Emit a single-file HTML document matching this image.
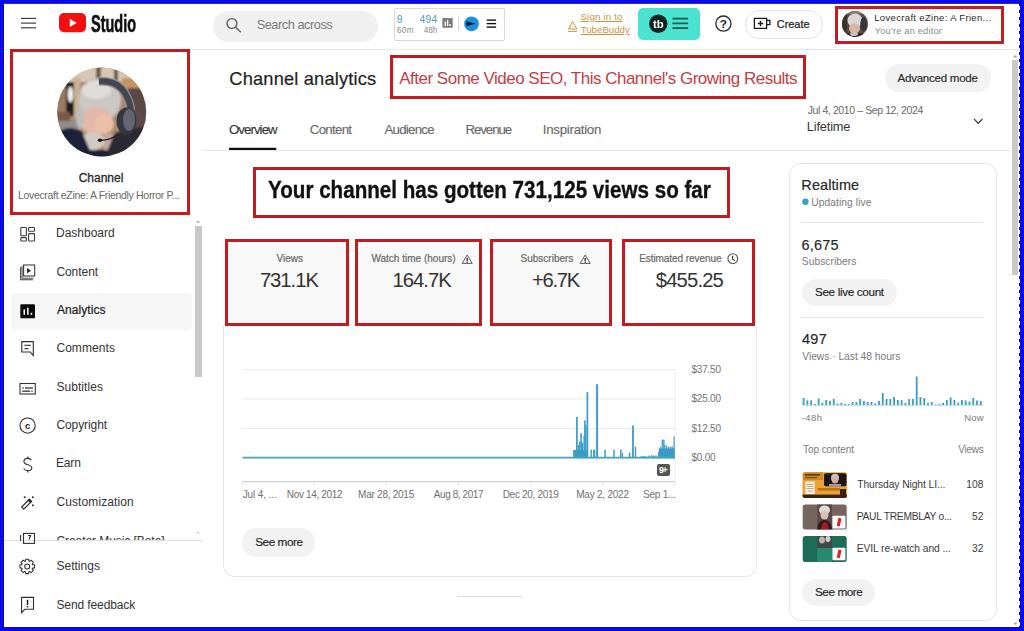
<!DOCTYPE html>
<html><head><meta charset="utf-8"><title>Channel analytics - YouTube Studio</title>
<style>
html,body{margin:0;padding:0;}
body{width:1024px;height:631px;overflow:hidden;position:relative;background:#fff;font-family:"Liberation Sans", Arial, sans-serif;}
body>div{position:absolute;}
.t{white-space:nowrap;}
body>svg{position:absolute;left:0;top:0;}
</style></head><body>
<div style="left:4px;top:49px;width:1015px;height:1px;background:#e8e8e8;"></div>
<div style="left:212.5px;top:10.5px;width:165.5px;height:31px;background:#f0f0f0;border-radius:16px;"></div>
<div style="left:393.5px;top:7.8px;width:109.8px;height:31.2px;border:1px solid #d9d9d9;border-radius:2px;"></div>
<div style="left:638px;top:8px;width:61.5px;height:31.7px;background:#4be2cf;border-radius:5px;"></div>
<div style="left:744.8px;top:10px;width:76.4px;height:26.6px;border:1px solid #e3e3e3;border-radius:14px;"></div>
<div style="left:884.7px;top:64.1px;width:106.1px;height:28.1px;background:#f2f2f2;border-radius:14px;"></div>
<div style="left:203px;top:150px;width:808px;height:1px;background:#e5e5e5;"></div>
<div style="left:10.5px;top:292.5px;width:181.5px;height:37.5px;background:#f6f6f6;border-radius:4px;"></div>
<div style="left:4px;top:540px;width:198.5px;height:1px;background:#e0e0e0;"></div>
<div style="left:224px;top:239px;width:124px;height:86px;background:#f8f8f8;"></div>
<div style="left:355px;top:239px;width:127px;height:86px;background:#f8f8f8;"></div>
<div style="left:490px;top:239px;width:122px;height:86px;background:#f8f8f8;"></div>
<div style="left:223px;top:325px;width:1px;height:240px;background:#e6e6e6;"></div>
<div style="left:756px;top:326px;width:1px;height:239px;background:#e6e6e6;"></div>
<div style="left:223px;top:553px;width:532px;height:22.5px;border:1px solid #e6e6e6;border-top:none;border-radius:0 0 12px 12px;"></div>
<div style="left:789px;top:163px;width:206px;height:455.5px;border:1px solid #e3e3e3;border-radius:12px;"></div>
<div style="left:801px;top:222px;width:182px;height:1px;background:#e5e5e5;"></div>
<div style="left:801px;top:317px;width:182px;height:1px;background:#e5e5e5;"></div>
<div style="left:802px;top:279px;width:95px;height:27px;background:#f2f2f2;border-radius:14px;"></div>
<div style="left:802.2px;top:578.5px;width:72.5px;height:27.5px;background:#f2f2f2;border-radius:14px;"></div>
<div style="left:242px;top:528px;width:73px;height:28.7px;background:#f2f2f2;border-radius:14px;"></div>
<div style="left:457px;top:596px;width:65px;height:1px;background:#dddddd;"></div>
<div style="left:657px;top:464px;width:12.6px;height:11.6px;background:#555;border-radius:2px;"></div>
<svg width="1024" height="631" viewBox="0 0 1024 631">

<defs>
 <clipPath id="cav"><circle cx="101.7" cy="112" r="44.5"/></clipPath>
 <clipPath id="cav2"><circle cx="855" cy="23.9" r="13"/></clipPath>
 <filter id="bl1" x="-20%" y="-20%" width="140%" height="140%"><feGaussianBlur stdDeviation="1.6"/></filter>
 <filter id="bl3" x="-20%" y="-20%" width="140%" height="140%"><feGaussianBlur stdDeviation="1.1"/></filter>
 <filter id="bl2" x="-20%" y="-20%" width="140%" height="140%"><feGaussianBlur stdDeviation="0.6"/></filter>
</defs>

<g stroke="#303030" stroke-width="1.1"><line x1="21" y1="18.4" x2="36" y2="18.4"/><line x1="21" y1="23.1" x2="36" y2="23.1"/><line x1="21" y1="27.8" x2="36" y2="27.8"/></g>
<rect x="59" y="13" width="27" height="19.2" rx="5" fill="#f40f0f"/><path d="M69.8 18.7 L69.8 27.1 L76.6 22.9 Z" fill="#fff"/>
<g fill="none" stroke="#5f5f5f" stroke-width="1.4"><circle cx="231.9" cy="23.5" r="4.9"/><line x1="235.5" y1="27.1" x2="240.8" y2="32.3"/></g>
<rect x="442.4" y="18.1" width="10.3" height="9.6" fill="#787878"/><g fill="#fff"><rect x="444.6" y="21.5" width="1.3" height="4.5"/><rect x="447" y="20" width="1.3" height="6"/><rect x="449.4" y="24" width="1.4" height="2"/></g>
<line x1="458.6" y1="16" x2="458.6" y2="31.2" stroke="#d0d0d0" stroke-width="1"/>
<circle cx="471.5" cy="23.8" r="7.4" fill="#1f8fe0"/><path d="M466.3 21.3 L475.6 23.8 L466.3 26.3 Z" fill="#0d2238"/>
<g stroke="#111" stroke-width="1.4"><line x1="486.7" y1="20.1" x2="496.1" y2="20.1"/><line x1="486.7" y1="23.6" x2="496.1" y2="23.6"/><line x1="486.7" y1="27.1" x2="496.1" y2="27.1"/></g>
<g fill="none" stroke="#c9963f" stroke-width="1"><path d="M572.7 21.6 L576.9 29 L568.5 29 Z"/><line x1="568" y1="31.4" x2="577.3" y2="31.4"/></g><circle cx="572.7" cy="27" r="0.6" fill="#c9963f"/>
<circle cx="658.25" cy="23.8" r="9.25" fill="#0f2320"/>
<g stroke="#0b5b50" stroke-width="1.7" stroke-linecap="round"><line x1="673.2" y1="18.7" x2="687.4" y2="18.7"/><line x1="673.2" y1="23.4" x2="687.4" y2="23.4"/><line x1="673.2" y1="28.2" x2="687.4" y2="28.2"/></g>
<circle cx="723.4" cy="23.6" r="7.6" fill="none" stroke="#2a2a2a" stroke-width="1.3"/>
<g fill="none" stroke="#1a1a1a" stroke-width="1.3"><rect x="754.4" y="18.4" width="12.2" height="10"/><path d="M766.6 20.4 L769.9 20.4 L769.9 24.6 L766.6 24.6"/></g><g stroke="#1a1a1a" stroke-width="1.5"><line x1="757.8" y1="23.5" x2="763.2" y2="23.5"/><line x1="760.5" y1="20.8" x2="760.5" y2="26.2"/></g>
<path d="M974 118.8 L978.2 123.3 L982.4 118.8" fill="none" stroke="#333" stroke-width="1.2"/>
<line x1="230" y1="148.9" x2="275.3" y2="148.9" stroke="#0f0f0f" stroke-width="2.4" stroke-linecap="round"/>
<g fill="none" stroke="#3c3c3c" stroke-width="1.1">
<rect x="20.8" y="227.5" width="5.6" height="8.3" rx="0.8"/>
<rect x="28.6" y="227.5" width="5.9" height="3.7" rx="0.8"/>
<rect x="20.8" y="237.6" width="5.6" height="3.4" rx="0.8"/>
<rect x="28.6" y="233.6" width="5.9" height="7.4" rx="0.8"/>
<rect x="23.6" y="265" width="11.1" height="11" />
<path d="M20.7 267 L20.7 279.7 L32.8 279.7"/>
<path d="M22.1 266 L22.1 278.2 L33.6 278.2" stroke-width="0.9"/>
</g>
<path d="M27 268.1 L27 273.3 L31.2 270.7 Z" fill="#2a2a2a"/>
<rect x="20.3" y="304.2" width="14.7" height="14" rx="1" fill="#0a0a0a"/><g fill="#fff"><rect x="23.5" y="309.3" width="1.5" height="5.5"/><rect x="27.1" y="307.7" width="1.5" height="7.1"/><rect x="30.7" y="312.8" width="1.5" height="2"/></g>
<g fill="none" stroke="#2e2e2e" stroke-width="1.1"><path d="M21.8 341.6 L33.3 341.6 L33.3 355.6 L30.2 352 L21.8 352 Z"/></g><g stroke="#2e2e2e" stroke-width="1.1"><line x1="24.4" y1="345.3" x2="30.8" y2="345.3"/><line x1="24.4" y1="348.7" x2="28.6" y2="348.7"/></g>
<rect x="20" y="383.5" width="15.3" height="10.5" fill="none" stroke="#333" stroke-width="1.1"/><g stroke="#333" stroke-width="1.3"><line x1="22.4" y1="388" x2="23.7" y2="388"/><line x1="25" y1="388" x2="33" y2="388"/><line x1="22.2" y1="391.2" x2="30" y2="391.2"/><line x1="31.3" y1="391.2" x2="32.7" y2="391.2"/></g>
<circle cx="27.6" cy="425.6" r="7.6" fill="none" stroke="#2e2e2e" stroke-width="1.1"/>
<g fill="none" stroke="#333" stroke-width="1.1"><path d="M31.4 460.3 C30.6 458.9 29.4 458.4 27.8 458.4 C25.3 458.4 23.9 459.6 23.9 461.4 C23.9 465.8 31.8 463.6 31.8 467.7 C31.8 469.6 30.2 470.6 27.9 470.6 C25.9 470.6 24.5 469.8 23.7 468.4"/><line x1="27.8" y1="456.4" x2="27.8" y2="458.4"/><line x1="27.8" y1="470.6" x2="27.8" y2="472.4"/></g>
<g><path d="M21.7 507 L29.3 499.4 L31.4 501.5 L23.8 509.1 Z" fill="none" stroke="#2a2a2a" stroke-width="1.1"/><path d="M28.3 500.4 L29.3 499.4 L31.4 501.5 L30.4 502.5 Z" fill="#2a2a2a" stroke="#2a2a2a" stroke-width="1.2"/><g fill="#2a2a2a"><rect x="23.8" y="496.4" width="1.7" height="1.7"/><rect x="32" y="496.4" width="1.7" height="1.7"/><rect x="32" y="504.5" width="1.7" height="1.7"/></g></g>
<g fill="none" stroke="#333" stroke-width="1.1"><rect x="23.5" y="533.4" width="11" height="10"/><line x1="20.6" y1="535" x2="20.6" y2="541"/></g><path d="M28 535.5 L30.5 535.5 L29 539.5" fill="none" stroke="#333" stroke-width="1.2"/>
<polygon points="34.44,564.86 34.44,567.94 32.53,568.13 32.19,568.94 33.41,570.43 31.23,572.61 29.74,571.39 28.93,571.73 28.74,573.64 25.66,573.64 25.47,571.73 24.66,571.39 23.17,572.61 20.99,570.43 22.21,568.94 21.87,568.13 19.96,567.94 19.96,564.86 21.87,564.67 22.21,563.86 20.99,562.37 23.17,560.19 24.66,561.41 25.47,561.07 25.66,559.16 28.74,559.16 28.93,561.07 29.74,561.41 31.23,560.19 33.41,562.37 32.19,563.86 32.53,564.67" fill="none" stroke="#333" stroke-width="1.05" stroke-linejoin="round"/><circle cx="27.2" cy="566.4" r="2.5" fill="none" stroke="#333" stroke-width="1.05"/>
<path d="M21.6 597.4 L33.5 597.4 L33.5 609.3 L24.8 609.3 L21.6 612.6 Z" fill="none" stroke="#2e2e2e" stroke-width="1.1"/><line x1="27.5" y1="599.8" x2="27.5" y2="605" stroke="#111" stroke-width="1.4"/><rect x="26.8" y="606" width="1.4" height="1.4" fill="#111"/>
<path d="M467.2 255 L472.23999999999995 263.4 L462.16 263.4 Z" fill="none" stroke="#5a5a5a" stroke-width="1" stroke-linejoin="round"/><line x1="467.2" y1="258" x2="467.2" y2="260.79999999999995" stroke="#222" stroke-width="1.4"/><rect x="466.5" y="261.5" width="1.4" height="1.1" fill="#222"/>
<path d="M585.2 255 L590.24 263.4 L580.1600000000001 263.4 Z" fill="none" stroke="#5a5a5a" stroke-width="1" stroke-linejoin="round"/><line x1="585.2" y1="258" x2="585.2" y2="260.79999999999995" stroke="#222" stroke-width="1.4"/><rect x="584.5" y="261.5" width="1.4" height="1.1" fill="#222"/>
<circle cx="732.8" cy="258.6" r="4.9" fill="none" stroke="#555" stroke-width="1.1"/><path d="M732.6 255.8 L732.6 259 L734.8 260.6" fill="none" stroke="#333" stroke-width="1.1"/>
<line x1="242.5" y1="369.8" x2="674.8" y2="369.8" stroke="#ececec" stroke-width="1"/>
<line x1="242.5" y1="399" x2="674.8" y2="399" stroke="#ececec" stroke-width="1"/>
<line x1="242.5" y1="428.5" x2="674.8" y2="428.5" stroke="#ececec" stroke-width="1"/>
<line x1="675" y1="369.5" x2="675" y2="482" stroke="#eeeeee" stroke-width="1"/>
<line x1="242.4" y1="481.6" x2="675" y2="481.6" stroke="#cfcfcf" stroke-width="1.2"/>
<line x1="242.6" y1="481.6" x2="242.6" y2="486" stroke="#e3e3e3" stroke-width="1"/>
<line x1="314" y1="481.6" x2="314" y2="486" stroke="#e3e3e3" stroke-width="1"/>
<line x1="386" y1="481.6" x2="386" y2="486" stroke="#e3e3e3" stroke-width="1"/>
<line x1="458.5" y1="481.6" x2="458.5" y2="486" stroke="#e3e3e3" stroke-width="1"/>
<line x1="531" y1="481.6" x2="531" y2="486" stroke="#e3e3e3" stroke-width="1"/>
<line x1="603" y1="481.6" x2="603" y2="486" stroke="#e3e3e3" stroke-width="1"/>
<line x1="675" y1="481.6" x2="675" y2="486" stroke="#e3e3e3" stroke-width="1"/>
<rect x="573.20" y="450.2" width="2.2" height="8.00" fill="#3b9cc6"/>
<rect x="576.05" y="416.9" width="1.7" height="41.30" fill="#3b9cc6"/>
<rect x="578.05" y="445" width="1.5" height="13.20" fill="#3b9cc6"/>
<rect x="579.15" y="441.4" width="1.5" height="16.80" fill="#3b9cc6"/>
<rect x="580.30" y="433.2" width="1.6" height="25.00" fill="#3b9cc6"/>
<rect x="581.70" y="442.7" width="1.4" height="15.50" fill="#3b9cc6"/>
<rect x="583.40" y="436" width="1.2" height="22.20" fill="#3b9cc6"/>
<rect x="584.10" y="420.3" width="1.6" height="37.90" fill="#3b9cc6"/>
<rect x="585.20" y="425" width="1.4" height="33.20" fill="#3b9cc6"/>
<rect x="586.55" y="392.1" width="1.7" height="66.10" fill="#3b9cc6"/>
<rect x="590.50" y="449.6" width="1.4" height="8.60" fill="#3b9cc6"/>
<rect x="592.95" y="449.6" width="1.3" height="8.60" fill="#3b9cc6"/>
<rect x="594.10" y="449.6" width="1.2" height="8.60" fill="#3b9cc6"/>
<rect x="596.10" y="384.2" width="2.0" height="74.00" fill="#3b9cc6"/>
<rect x="604.35" y="449.6" width="1.5" height="8.60" fill="#3b9cc6"/>
<rect x="613.25" y="449.6" width="1.5" height="8.60" fill="#3b9cc6"/>
<rect x="620.05" y="449.6" width="1.5" height="8.60" fill="#3b9cc6"/>
<rect x="621.75" y="453" width="1.3" height="5.20" fill="#3b9cc6"/>
<rect x="628.85" y="452.6" width="1.5" height="5.60" fill="#3b9cc6"/>
<rect x="632.10" y="425.5" width="1.8" height="32.70" fill="#3b9cc6"/>
<rect x="634.80" y="446.6" width="1.4" height="11.60" fill="#3b9cc6"/>
<rect x="573.6" y="450" width="14.2" height="8" fill="#3b9cc6"/>
<rect x="658.8" y="448.5" width="15.8" height="9.5" fill="#3b9cc6"/>
<rect x="640.00" y="456.70" width="1.1" height="1.50" fill="#46a3c4"/>
<rect x="641.10" y="456.14" width="1.1" height="2.06" fill="#46a3c4"/>
<rect x="642.20" y="456.41" width="1.1" height="1.79" fill="#46a3c4"/>
<rect x="643.30" y="455.97" width="1.1" height="2.23" fill="#46a3c4"/>
<rect x="644.40" y="455.90" width="1.1" height="2.30" fill="#46a3c4"/>
<rect x="645.50" y="456.82" width="1.1" height="1.38" fill="#46a3c4"/>
<rect x="646.60" y="456.88" width="1.1" height="1.32" fill="#46a3c4"/>
<rect x="647.70" y="455.45" width="1.1" height="2.75" fill="#46a3c4"/>
<rect x="648.80" y="456.40" width="1.1" height="1.80" fill="#46a3c4"/>
<rect x="649.90" y="456.40" width="1.1" height="1.80" fill="#46a3c4"/>
<rect x="651.00" y="455.08" width="1.1" height="3.12" fill="#46a3c4"/>
<rect x="652.10" y="455.94" width="1.1" height="2.26" fill="#46a3c4"/>
<rect x="653.20" y="455.28" width="1.1" height="2.92" fill="#46a3c4"/>
<rect x="654.30" y="455.86" width="1.1" height="2.34" fill="#46a3c4"/>
<rect x="655.40" y="455.55" width="1.1" height="2.65" fill="#46a3c4"/>
<rect x="656.50" y="456.35" width="1.1" height="1.85" fill="#46a3c4"/>
<rect x="657.60" y="455.49" width="1.1" height="2.71" fill="#46a3c4"/>
<rect x="658.00" y="452" width="1.2" height="6.20" fill="#3b9cc6"/>
<rect x="658.90" y="450" width="1.2" height="8.20" fill="#3b9cc6"/>
<rect x="659.80" y="447" width="1.2" height="11.20" fill="#3b9cc6"/>
<rect x="660.70" y="449" width="1.2" height="9.20" fill="#3b9cc6"/>
<rect x="661.60" y="439.7" width="1.2" height="18.50" fill="#3b9cc6"/>
<rect x="662.50" y="439.7" width="1.2" height="18.50" fill="#3b9cc6"/>
<rect x="663.40" y="439.7" width="1.2" height="18.50" fill="#3b9cc6"/>
<rect x="664.30" y="445" width="1.2" height="13.20" fill="#3b9cc6"/>
<rect x="665.20" y="448" width="1.2" height="10.20" fill="#3b9cc6"/>
<rect x="666.10" y="445.5" width="1.2" height="12.70" fill="#3b9cc6"/>
<rect x="667.00" y="450" width="1.2" height="8.20" fill="#3b9cc6"/>
<rect x="667.90" y="447" width="1.2" height="11.20" fill="#3b9cc6"/>
<rect x="668.80" y="449" width="1.2" height="9.20" fill="#3b9cc6"/>
<rect x="669.70" y="447" width="1.2" height="11.20" fill="#3b9cc6"/>
<rect x="670.60" y="449.5" width="1.2" height="8.70" fill="#3b9cc6"/>
<rect x="671.50" y="446" width="1.2" height="12.20" fill="#3b9cc6"/>
<rect x="672.50" y="448" width="1.2" height="10.20" fill="#3b9cc6"/>
<rect x="673.50" y="436.6" width="1.2" height="21.60" fill="#3b9cc6"/>
<line x1="242.5" y1="457.6" x2="675" y2="457.6" stroke="#47a3bd" stroke-width="1.8"/>
<rect x="802.70" y="398.00" width="1.8" height="7.00" fill="#3a9cc2"/>
<rect x="806.47" y="400.40" width="1.8" height="4.60" fill="#3a9cc2"/>
<rect x="810.24" y="400.40" width="1.8" height="4.60" fill="#3a9cc2"/>
<rect x="814.01" y="404.00" width="1.8" height="1.00" fill="#3a9cc2"/>
<rect x="817.78" y="398.50" width="1.8" height="6.50" fill="#3a9cc2"/>
<rect x="821.55" y="403.00" width="1.8" height="2.00" fill="#3a9cc2"/>
<rect x="825.32" y="400.00" width="1.8" height="5.00" fill="#3a9cc2"/>
<rect x="829.09" y="401.00" width="1.8" height="4.00" fill="#3a9cc2"/>
<rect x="832.86" y="399.00" width="1.8" height="6.00" fill="#3a9cc2"/>
<rect x="836.63" y="403.50" width="1.8" height="1.50" fill="#3a9cc2"/>
<rect x="840.40" y="403.00" width="1.8" height="2.00" fill="#3a9cc2"/>
<rect x="844.17" y="404.00" width="1.8" height="1.00" fill="#3a9cc2"/>
<rect x="847.94" y="404.00" width="1.8" height="1.00" fill="#3a9cc2"/>
<rect x="851.71" y="402.00" width="1.8" height="3.00" fill="#3a9cc2"/>
<rect x="855.48" y="402.00" width="1.8" height="3.00" fill="#3a9cc2"/>
<rect x="859.25" y="399.00" width="1.8" height="6.00" fill="#3a9cc2"/>
<rect x="863.02" y="401.00" width="1.8" height="4.00" fill="#3a9cc2"/>
<rect x="866.79" y="402.00" width="1.8" height="3.00" fill="#3a9cc2"/>
<rect x="870.56" y="402.00" width="1.8" height="3.00" fill="#3a9cc2"/>
<rect x="874.33" y="403.50" width="1.8" height="1.50" fill="#3a9cc2"/>
<rect x="878.10" y="401.00" width="1.8" height="4.00" fill="#3a9cc2"/>
<rect x="881.87" y="393.00" width="1.8" height="12.00" fill="#3a9cc2"/>
<rect x="885.64" y="399.00" width="1.8" height="6.00" fill="#3a9cc2"/>
<rect x="889.41" y="399.00" width="1.8" height="6.00" fill="#3a9cc2"/>
<rect x="893.18" y="397.00" width="1.8" height="8.00" fill="#3a9cc2"/>
<rect x="896.95" y="400.00" width="1.8" height="5.00" fill="#3a9cc2"/>
<rect x="900.72" y="400.00" width="1.8" height="5.00" fill="#3a9cc2"/>
<rect x="904.49" y="403.00" width="1.8" height="2.00" fill="#3a9cc2"/>
<rect x="908.26" y="399.00" width="1.8" height="6.00" fill="#3a9cc2"/>
<rect x="912.03" y="399.00" width="1.8" height="6.00" fill="#3a9cc2"/>
<rect x="915.80" y="376.50" width="1.8" height="28.50" fill="#3a9cc2"/>
<rect x="919.57" y="397.00" width="1.8" height="8.00" fill="#3a9cc2"/>
<rect x="923.34" y="398.00" width="1.8" height="7.00" fill="#3a9cc2"/>
<rect x="927.11" y="403.00" width="1.8" height="2.00" fill="#3a9cc2"/>
<rect x="930.88" y="402.00" width="1.8" height="3.00" fill="#3a9cc2"/>
<rect x="934.65" y="404.50" width="1.8" height="0.50" fill="#3a9cc2"/>
<rect x="938.42" y="404.00" width="1.8" height="1.00" fill="#3a9cc2"/>
<rect x="942.19" y="403.00" width="1.8" height="2.00" fill="#3a9cc2"/>
<rect x="945.96" y="400.00" width="1.8" height="5.00" fill="#3a9cc2"/>
<rect x="949.73" y="397.50" width="1.8" height="7.50" fill="#3a9cc2"/>
<rect x="953.50" y="400.00" width="1.8" height="5.00" fill="#3a9cc2"/>
<rect x="957.27" y="402.50" width="1.8" height="2.50" fill="#3a9cc2"/>
<rect x="961.04" y="400.00" width="1.8" height="5.00" fill="#3a9cc2"/>
<rect x="964.81" y="400.50" width="1.8" height="4.50" fill="#3a9cc2"/>
<rect x="968.58" y="401.50" width="1.8" height="3.50" fill="#3a9cc2"/>
<rect x="972.35" y="398.00" width="1.8" height="7.00" fill="#3a9cc2"/>
<rect x="976.12" y="400.50" width="1.8" height="4.50" fill="#3a9cc2"/>
<rect x="979.89" y="401.00" width="1.8" height="4.00" fill="#3a9cc2"/>
<line x1="802" y1="405.3" x2="983" y2="405.3" stroke="#9fd0e4" stroke-width="0.8"/>
<circle cx="805.4" cy="201.8" r="3.2" fill="#3aa0c6"/>
<g clip-path="url(#cav)">
 <rect x="56" y="66" width="92" height="92" fill="#a88a70"/>
 <g filter="url(#bl3)">
  <rect x="56" y="62" width="90" height="20" fill="#d6c6b2"/>
  <rect x="96" y="62" width="5" height="20" fill="#6e5a48"/>
  <rect x="114" y="66" width="4" height="15" fill="#6a5644"/>
  <rect x="56" y="80" width="12" height="40" fill="#9a7a60"/>
  <rect x="74" y="78" width="6" height="40" fill="#c9b296"/>
  <rect x="66" y="82" width="8" height="34" fill="#231c1c"/>
  <ellipse cx="70.5" cy="94.5" rx="2.8" ry="8" fill="#efefef"/>
  <rect x="56" y="112" width="14" height="9" fill="#7a5a46"/>
  <rect x="56" y="121" width="22" height="14" fill="#8e8e8c"/>
  <rect x="122" y="78" width="24" height="12" fill="#c49464"/>
  <rect x="128" y="88" width="20" height="50" fill="#5a4a46"/>
  <ellipse cx="100" cy="100" rx="21" ry="22" fill="#cbc7c4"/>
  <ellipse cx="96" cy="90" rx="15" ry="9" fill="#dedbd8"/>
  <ellipse cx="96" cy="121" rx="16" ry="14" fill="#e3b8a8"/>
  <ellipse cx="104" cy="124" rx="10" ry="10" fill="#ebbfa6"/>
  <ellipse cx="80" cy="118" rx="4" ry="11" fill="#bdbdbd"/>
  <ellipse cx="93" cy="141" rx="12" ry="9" fill="#d2cac2"/>
  <rect x="104" y="134" width="20" height="16" fill="#c2ab9c"/>
  <path d="M58 132 Q70 124 82 132 L94 160 L56 160 Z" fill="#1b2038"/>
  <path d="M114 134 Q128 126 150 128 L150 160 L104 160 Z" fill="#2a2a32"/>
  <rect x="84" y="150" width="24" height="10" fill="#1e2234"/>
 </g>
 <path d="M99 81.5 Q118 80 126 95 Q130 102 131 110" fill="none" stroke="#8e8e92" stroke-width="8.5" filter="url(#bl2)"/>
 <path d="M99 81.5 Q118 80 126 95 Q130 102 131 110" fill="none" stroke="#43464f" stroke-width="6" filter="url(#bl2)"/>
 <ellipse cx="126.5" cy="121" rx="10" ry="13.5" fill="#363842" filter="url(#bl2)"/>
 <ellipse cx="129" cy="120" rx="6" ry="11" fill="#626672" filter="url(#bl2)"/>
 <path d="M100 140.3 Q110 140.5 118 134.5" fill="none" stroke="#2a2020" stroke-width="1.2"/>
 <ellipse cx="100" cy="140.3" rx="2.3" ry="1.7" fill="#1a1a1a"/>
</g>
<g clip-path="url(#cav2)">
 <rect x="842" y="10" width="26" height="28" fill="#5a4a44"/>
 <g filter="url(#bl2)">
 <rect x="842" y="10" width="5" height="28" fill="#3a302c"/>
 <rect x="848" y="10" width="14" height="4" fill="#8a7a70"/>
 <ellipse cx="855" cy="20.5" rx="7.5" ry="7" fill="#d8d6d6"/>
 <ellipse cx="854.5" cy="28.5" rx="5.5" ry="5" fill="#dab6a8"/>
 <ellipse cx="863.5" cy="24" rx="3.2" ry="7" fill="#34343c"/>
 <rect x="842" y="33.5" width="26" height="5" fill="#22242e"/>
 <ellipse cx="854" cy="34" rx="4" ry="2" fill="#c8c0b8"/>
 </g>
</g>

<clipPath id="th1"><rect x="802.5" y="472.2" width="44.5" height="25.7" rx="2.5"/></clipPath>
<clipPath id="th2"><rect x="802.7" y="504.4" width="44" height="25.2" rx="2.5"/></clipPath>
<clipPath id="th3"><rect x="802.7" y="535.9" width="44" height="26" rx="2.5"/></clipPath>
<g clip-path="url(#th1)">
 <rect x="800" y="470" width="50" height="30" fill="#eba232"/>
 <g filter="url(#bl2)">
 <rect x="803" y="472" width="20" height="8" fill="#c98a2a"/>
 <rect x="805" y="474" width="15" height="1.6" fill="#5a3a10"/>
 <rect x="805" y="477" width="12" height="1.2" fill="#7a5018"/>
 <rect x="824" y="473.2" width="22.5" height="13" rx="2" fill="#1e1418"/>
 <ellipse cx="835" cy="478" rx="4" ry="4.2" fill="#c8c0bc"/>
 <ellipse cx="835" cy="481" rx="3" ry="2.5" fill="#d8a8a0"/>
 <rect x="829" y="484" width="12" height="2.5" fill="#9a9aa0"/>
 <rect x="805.4" y="481.5" width="9.2" height="12.5" fill="#fbf3e4"/>
 <rect x="818" y="488" width="22" height="2.5" fill="#b87018"/>
 <rect x="800" y="494.6" width="50" height="5" fill="#3a2412"/>
 <rect x="840" y="489" width="6" height="7" fill="#3a2412"/>
 </g>
 <g stroke="#8a7050" stroke-width="0.6"><line x1="806.5" y1="484.5" x2="813.5" y2="484.5"/><line x1="806.5" y1="486.5" x2="813.5" y2="486.5"/><line x1="806.5" y1="488.5" x2="813.5" y2="488.5"/><line x1="807.5" y1="491" x2="812.5" y2="491"/></g>
</g>
<g clip-path="url(#th2)">
 <rect x="800" y="502" width="50" height="30" fill="#77655f"/>
 <g filter="url(#bl2)">
 <rect x="817.2" y="504" width="14.8" height="26" fill="#5a4a45"/>
 <ellipse cx="824.5" cy="510" rx="5.5" ry="4.5" fill="#dcdcdc"/>
 <ellipse cx="824.5" cy="515" rx="4" ry="4.5" fill="#d9bfb6"/>
 <path d="M817 530 Q818 520 824.5 520 Q831 520 832 530 Z" fill="#2a1c1c"/>
 <path d="M821 530 Q822 522 825 522 Q828 522 829 530 Z" fill="#a01c22"/>
 </g>
 <rect x="832.4" y="515.8" width="13" height="12.7" rx="0.8" fill="#fdfdfd"/>
 <path d="M836.8 525.8 L838.4 517.8 L841.4 518.4 L839.8 526.4 Z" fill="#e0211c"/>
</g>
<g clip-path="url(#th3)">
 <rect x="800" y="534" width="50" height="30" fill="#1d6c57"/>
 <g filter="url(#bl2)">
 <rect x="817.2" y="536" width="14.8" height="12" fill="#3e4844"/>
 <ellipse cx="822" cy="540" rx="3" ry="3.5" fill="#b8b6b2"/>
 <ellipse cx="828" cy="539" rx="2.5" ry="3" fill="#d0d0cc"/>
 <rect x="817.2" y="548" width="14.8" height="14" fill="#2b8a70"/>
 </g>
 <rect x="832.4" y="547.7" width="13" height="12.5" rx="0.8" fill="#fdfdfd"/>
 <path d="M836.8 557.6 L838.4 549.6 L841.4 550.2 L839.8 558.2 Z" fill="#e0211c"/>
</g>
<path d="M196 222.6 L198.2 220.4 L200.4 222.6 Z" fill="#a8a8a8"/>
<path d="M1012.6 57.4 L1015 55 L1017.4 57.4 Z" fill="#a8a8a8"/>
<path d="M1013.2 622.8 L1015.4 625 L1017.6 622.8 Z" fill="#a8a8a8"/>
<path d="M196 532 L198 534 L200 532 Z" fill="#cfcfcf"/>
</svg>
<div class="t" style="left:90.57px;top:8px;font-size:24.75px;line-height:31px;color:#0f0f0f;font-weight:700;transform:scaleX(0.5848);transform-origin:0 0;-webkit-text-stroke:0.6px #0f0f0f;">Studio</div>
<div class="t" style="left:256.68px;top:15px;font-size:12.75px;line-height:19px;color:#7a7a7a;letter-spacing:-0.454px;">Search across</div>
<div class="t" style="left:396.74px;top:12px;font-size:10.25px;line-height:15px;color:#4b9cc0;">9</div>
<div class="t" style="left:419.60px;top:12px;font-size:10.25px;line-height:15px;color:#4b9cc0;letter-spacing:0.273px;">494</div>
<div class="t" style="left:396.89px;top:24px;font-size:8.25px;line-height:13px;color:#8a8a8a;letter-spacing:0.301px;">60m</div>
<div class="t" style="left:423.83px;top:24px;font-size:8.25px;line-height:13px;color:#8a8a8a;letter-spacing:-0.068px;">48h</div>
<div class="t" style="left:580.46px;top:9px;font-size:9.75px;line-height:15px;color:#c9963f;letter-spacing:0.152px;text-decoration:underline;text-underline-offset:1px;">Sign in to</div>
<div class="t" style="left:580.70px;top:22px;font-size:9.75px;line-height:15px;color:#c9963f;letter-spacing:-0.042px;text-decoration:underline;text-underline-offset:1px;">TubeBuddy</div>
<div class="t" style="left:653.19px;top:16px;font-size:11.25px;line-height:16px;color:#ffffff;font-weight:700;transform:scaleX(1.0130);transform-origin:0 0;">tb</div>
<div class="t" style="left:719.77px;top:15px;font-size:11.75px;line-height:17px;color:#222;font-weight:700;">?</div>
<div class="t" style="left:776.75px;top:16px;font-size:11.0px;line-height:16px;color:#1f1f1f;letter-spacing:-0.051px;-webkit-text-stroke:0.25px #1f1f1f;">Create</div>
<div class="t" style="left:874.24px;top:10px;font-size:9.5px;line-height:15px;color:#2a2a2a;letter-spacing:0.335px;">Lovecraft eZine: A Frien...</div>
<div class="t" style="left:874.77px;top:24px;font-size:9.25px;line-height:14px;color:#8a8a8a;letter-spacing:0.195px;">You're an editor</div>
<div class="t" style="left:78.70px;top:169px;font-size:12.0px;line-height:18px;color:#282828;letter-spacing:-0.003px;-webkit-text-stroke:0.3px #282828;">Channel</div>
<div class="t" style="left:17.96px;top:187px;font-size:10.5px;line-height:16px;color:#686868;letter-spacing:-0.324px;">Lovecraft eZine: A Friendly Horror P...</div>
<div class="t" style="left:56.04px;top:224px;font-size:12.0px;line-height:18px;color:#333333;letter-spacing:-0.005px;">Dashboard</div>
<div class="t" style="left:56.40px;top:263px;font-size:12.0px;line-height:18px;color:#333333;letter-spacing:-0.057px;">Content</div>
<div class="t" style="left:57.00px;top:301px;font-size:12.0px;line-height:18px;color:#1a1a1a;letter-spacing:0.053px;-webkit-text-stroke:0.2px #1a1a1a;">Analytics</div>
<div class="t" style="left:56.40px;top:339px;font-size:12.0px;line-height:18px;color:#333333;letter-spacing:0.071px;">Comments</div>
<div class="t" style="left:56.46px;top:378px;font-size:12.0px;line-height:18px;color:#333333;letter-spacing:0.055px;">Subtitles</div>
<div class="t" style="left:56.40px;top:416px;font-size:12.0px;line-height:18px;color:#333333;letter-spacing:-0.080px;">Copyright</div>
<div class="t" style="left:56.04px;top:454px;font-size:12.0px;line-height:18px;color:#333333;letter-spacing:-0.193px;">Earn</div>
<div class="t" style="left:56.40px;top:493px;font-size:12.0px;line-height:18px;color:#333333;letter-spacing:0.113px;">Customization</div>
<div class="t" style="left:56.46px;top:557px;font-size:12.0px;line-height:18px;color:#333333;letter-spacing:0.011px;">Settings</div>
<div class="t" style="left:56.46px;top:596px;font-size:12.0px;line-height:18px;color:#333333;letter-spacing:-0.108px;">Send feedback</div>
<div class="t" style="left:229.34px;top:66px;font-size:18.25px;line-height:25px;color:#1f1f1f;letter-spacing:0.176px;-webkit-text-stroke:0.2px #1f1f1f;">Channel analytics</div>
<div class="t" style="left:399.25px;top:67px;font-size:17.0px;line-height:23px;color:#c63c42;letter-spacing:-0.504px;">After Some Video SEO, This Channel's Growing Results</div>
<div class="t" style="left:897.60px;top:70px;font-size:11.5px;line-height:16px;color:#262626;letter-spacing:-0.239px;-webkit-text-stroke:0.15px #262626;">Advanced mode</div>
<div class="t" style="left:807.64px;top:102px;font-size:10.5px;line-height:16px;color:#686868;letter-spacing:-0.394px;">Jul 4, 2010 – Sep 12, 2024</div>
<div class="t" style="left:806.78px;top:117px;font-size:12.75px;line-height:19px;color:#333333;letter-spacing:-0.147px;">Lifetime</div>
<div class="t" style="left:228.90px;top:120px;font-size:13.25px;line-height:19px;color:#303030;letter-spacing:-0.922px;-webkit-text-stroke:0.12px #303030;">Overview</div>
<div class="t" style="left:309.84px;top:120px;font-size:13.25px;line-height:19px;color:#686868;letter-spacing:-0.708px;-webkit-text-stroke:0.12px #686868;">Content</div>
<div class="t" style="left:384.50px;top:120px;font-size:13.25px;line-height:19px;color:#686868;letter-spacing:-0.737px;-webkit-text-stroke:0.12px #686868;">Audience</div>
<div class="t" style="left:465.44px;top:120px;font-size:13.25px;line-height:19px;color:#686868;letter-spacing:-1.057px;-webkit-text-stroke:0.12px #686868;">Revenue</div>
<div class="t" style="left:542.81px;top:120px;font-size:13.25px;line-height:19px;color:#686868;letter-spacing:-0.259px;-webkit-text-stroke:0.12px #686868;">Inspiration</div>
<div class="t" style="left:267.99px;top:175px;font-size:23.5px;line-height:30px;color:#111111;font-weight:700;transform:scaleX(0.8768);transform-origin:0 0;-webkit-text-stroke:0.35px #111111;">Your channel has gotten 731,125 views so far</div>
<div class="t" style="left:276.55px;top:251px;font-size:10.0px;line-height:15px;color:#686868;-webkit-text-stroke:0.2px #686868;">Views</div>
<div class="t" style="left:371.45px;top:251px;font-size:10.0px;line-height:15px;color:#686868;letter-spacing:0.006px;-webkit-text-stroke:0.2px #686868;">Watch time (hours)</div>
<div class="t" style="left:520.55px;top:251px;font-size:10.0px;line-height:15px;color:#686868;-webkit-text-stroke:0.2px #686868;">Subscribers</div>
<div class="t" style="left:639.20px;top:251px;font-size:10.0px;line-height:15px;color:#686868;letter-spacing:-0.069px;-webkit-text-stroke:0.2px #686868;">Estimated revenue</div>
<div class="t" style="left:259.89px;top:267px;font-size:20.25px;line-height:26px;color:#333333;letter-spacing:-1.025px;">731.1K</div>
<div class="t" style="left:392.48px;top:267px;font-size:20.25px;line-height:26px;color:#333333;letter-spacing:-0.994px;">164.7K</div>
<div class="t" style="left:531.99px;top:267px;font-size:20.25px;line-height:26px;color:#333333;letter-spacing:-1.311px;">+6.7K</div>
<div class="t" style="left:655.80px;top:267px;font-size:20.25px;line-height:26px;color:#333333;letter-spacing:-0.865px;">$455.25</div>
<div class="t" style="left:691.40px;top:362px;font-size:10.0px;line-height:15px;color:#747474;letter-spacing:-0.190px;">$37.50</div>
<div class="t" style="left:691.40px;top:391px;font-size:10.0px;line-height:15px;color:#747474;letter-spacing:-0.190px;">$25.00</div>
<div class="t" style="left:691.40px;top:421px;font-size:10.0px;line-height:15px;color:#747474;letter-spacing:-0.190px;">$12.50</div>
<div class="t" style="left:691.40px;top:450px;font-size:10.0px;line-height:15px;color:#747474;letter-spacing:-0.212px;">$0.00</div>
<div class="t" style="left:242.65px;top:487px;font-size:10.0px;line-height:15px;color:#707070;letter-spacing:-0.094px;">Jul 4, ...</div>
<div class="t" style="left:286.80px;top:487px;font-size:10.0px;line-height:15px;color:#707070;letter-spacing:-0.336px;">Nov 14, 2012</div>
<div class="t" style="left:358.10px;top:487px;font-size:10.0px;line-height:15px;color:#707070;letter-spacing:-0.255px;">Mar 28, 2015</div>
<div class="t" style="left:433.80px;top:487px;font-size:10.0px;line-height:15px;color:#707070;letter-spacing:-0.425px;">Aug 8, 2017</div>
<div class="t" style="left:502.70px;top:487px;font-size:10.0px;line-height:15px;color:#707070;letter-spacing:-0.295px;">Dec 20, 2019</div>
<div class="t" style="left:576.20px;top:487px;font-size:10.0px;line-height:15px;color:#707070;letter-spacing:-0.220px;">May 2, 2022</div>
<div class="t" style="left:643.05px;top:487px;font-size:10.0px;line-height:15px;color:#707070;letter-spacing:-0.229px;">Sep 1...</div>
<div class="t" style="left:658.88px;top:463px;font-size:9.0px;line-height:14px;color:#ffffff;font-weight:700;letter-spacing:-1.385px;">9+</div>
<div class="t" style="left:255.22px;top:533px;font-size:11.75px;line-height:17px;color:#262626;letter-spacing:-0.447px;-webkit-text-stroke:0.15px #262626;">See more</div>
<div class="t" style="left:801.34px;top:175px;font-size:14.5px;line-height:20px;color:#262626;letter-spacing:0.087px;-webkit-text-stroke:0.15px #262626;">Realtime</div>
<div class="t" style="left:811.23px;top:195px;font-size:10.25px;line-height:15px;color:#7a7a7a;letter-spacing:0.082px;">Updating live</div>
<div class="t" style="left:801.57px;top:235px;font-size:14.5px;line-height:20px;color:#262626;letter-spacing:0.189px;-webkit-text-stroke:0.15px #262626;">6,675</div>
<div class="t" style="left:801.84px;top:254px;font-size:10.25px;line-height:15px;color:#7a7a7a;letter-spacing:0.040px;">Subscribers</div>
<div class="t" style="left:814.97px;top:283px;font-size:11.75px;line-height:17px;color:#262626;letter-spacing:-0.362px;-webkit-text-stroke:0.15px #262626;">See live count</div>
<div class="t" style="left:802.01px;top:329px;font-size:14.5px;line-height:20px;color:#262626;letter-spacing:0.286px;-webkit-text-stroke:0.15px #262626;">497</div>
<div class="t" style="left:802.25px;top:349px;font-size:10.25px;line-height:15px;color:#7a7a7a;letter-spacing:-0.014px;">Views · Last 48 hours</div>
<div class="t" style="left:801.67px;top:410px;font-size:9.5px;line-height:15px;color:#7a7a7a;letter-spacing:0.482px;">-48h</div>
<div class="t" style="left:964.24px;top:410px;font-size:9.5px;line-height:15px;color:#7a7a7a;letter-spacing:0.206px;">Now</div>
<div class="t" style="left:803.10px;top:442px;font-size:10.0px;line-height:15px;color:#7a7a7a;letter-spacing:-0.085px;">Top content</div>
<div class="t" style="left:958.35px;top:442px;font-size:10.0px;line-height:15px;color:#7a7a7a;letter-spacing:-0.275px;">Views</div>
<div class="t" style="left:857.29px;top:477px;font-size:10.25px;line-height:15px;color:#3a3a3a;letter-spacing:-0.074px;">Thursday Night LI...</div>
<div class="t" style="left:966.23px;top:477px;font-size:10.25px;line-height:15px;color:#3a3a3a;letter-spacing:0.056px;">108</div>
<div class="t" style="left:856.68px;top:509px;font-size:10.25px;line-height:15px;color:#3a3a3a;letter-spacing:-0.261px;">PAUL TREMBLAY o...</div>
<div class="t" style="left:971.99px;top:509px;font-size:10.25px;line-height:15px;color:#3a3a3a;letter-spacing:0.145px;">52</div>
<div class="t" style="left:856.68px;top:541px;font-size:10.25px;line-height:15px;color:#3a3a3a;letter-spacing:-0.054px;">EVIL re-watch and ...</div>
<div class="t" style="left:971.99px;top:541px;font-size:10.25px;line-height:15px;color:#3a3a3a;letter-spacing:0.145px;">32</div>
<div class="t" style="left:814.97px;top:583px;font-size:11.75px;line-height:17px;color:#262626;letter-spacing:-0.440px;-webkit-text-stroke:0.15px #262626;">See more</div>
<div class="t" style="left:24.92px;top:418px;font-size:9.5px;line-height:15px;color:#222;font-weight:700;">c</div>
<div style="left:0px;top:528px;width:200px;height:12px;overflow:hidden;"><div class="t" style="position:absolute;left:56.40px;top:4px;font-size:12.0px;line-height:18px;color:#333333;letter-spacing:-0.062px;">Creator Music [Beta]</div></div>
<div style="left:194.5px;top:226px;width:7px;height:150.5px;background:#c8c8c8;"></div>
<div style="left:1011.8px;top:60px;width:6.5px;height:215px;background:#c8c8c8;"></div>
<div style="left:835px;top:6px;width:162.50px;height:31.60px;border:3px solid #c41b21;"></div>
<div style="left:10px;top:48.8px;width:174.00px;height:160.00px;border:3px solid #c41b21;"></div>
<div style="left:390px;top:55.4px;width:409.80px;height:37.50px;border:3px solid #c41b21;"></div>
<div style="left:253.1px;top:167.4px;width:470.60px;height:44.50px;border:3px solid #c41b21;"></div>
<div style="left:224.7px;top:239px;width:118.00px;height:80.90px;border:3px solid #c41b21;"></div>
<div style="left:354.7px;top:239px;width:121.30px;height:80.90px;border:3px solid #c41b21;"></div>
<div style="left:489.8px;top:239px;width:116.70px;height:80.90px;border:3px solid #c41b21;"></div>
<div style="left:621.5px;top:239px;width:127.70px;height:80.90px;border:3px solid #c41b21;"></div>
<div style="left:0px;top:0px;width:1024px;height:3px;background:#0909f0;"></div>
<div style="left:0px;top:0px;width:3px;height:631px;background:#0909f0;"></div>
<div style="left:3px;top:3px;width:1px;height:624px;background:#0a0ab8;"></div>
<div style="left:3px;top:3px;width:1017px;height:1px;background:#2a2ac0;"></div>
<div style="left:1020px;top:0px;width:4px;height:631px;background:#0909f0;"></div>
<div style="left:0px;top:628px;width:1024px;height:3px;background:#0909f0;"></div>
<div style="left:3px;top:627px;width:1017px;height:1px;background:#0c0ca0;"></div>
<div style="left:1019px;top:3px;width:1px;height:624px;background:repeating-linear-gradient(to bottom,#1a1a1a 0px,#1a1a1a 3.5px,#fff 3.5px,#fff 7px);"></div>
</body></html>
